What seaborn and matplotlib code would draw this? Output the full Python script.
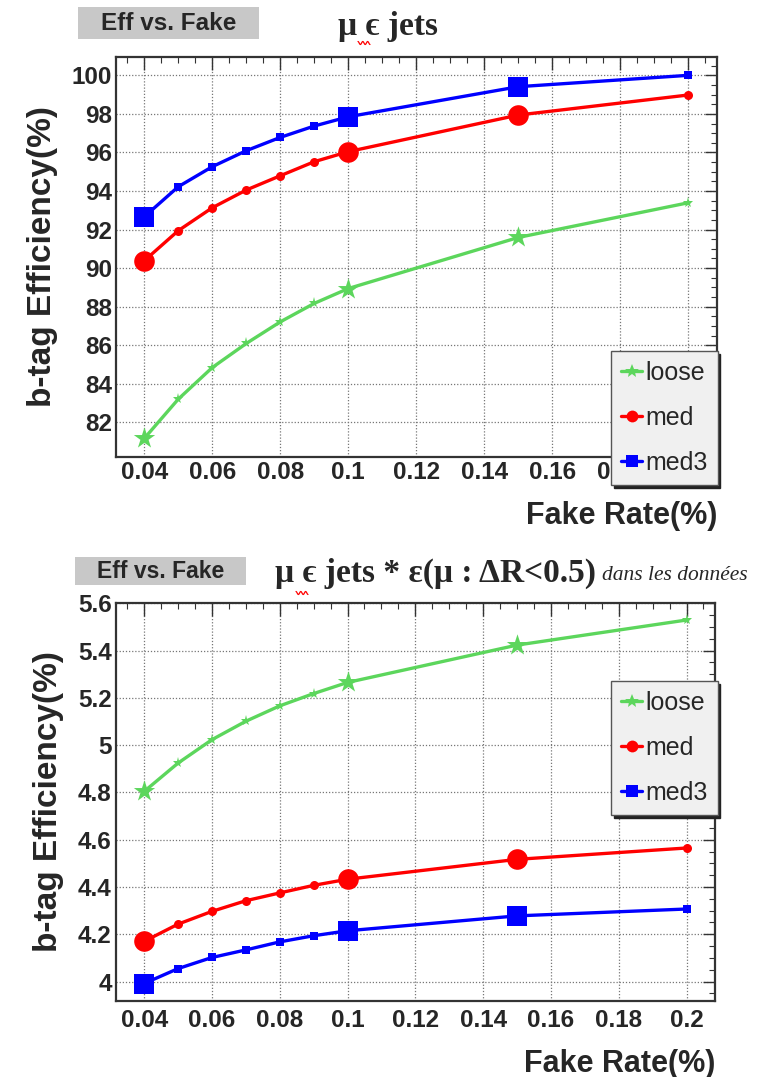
import matplotlib
matplotlib.use("Agg")
import matplotlib.pyplot as plt
from matplotlib.patches import Rectangle
from matplotlib.lines import Line2D
from matplotlib.ticker import MultipleLocator
import seaborn as sns
import pandas as pd
import numpy as np

# fake rate points (same for every working point)
fake_rate = [0.04, 0.05, 0.06, 0.07, 0.08, 0.09, 0.1, 0.15, 0.2]
big_idx = [0, 6, 7]  # points drawn with the large marker

# top panel: mu in jets
top_loose = [81.16, 83.2, 84.84, 86.09, 87.21, 88.17, 88.94, 91.59, 93.39]
top_med = [90.38, 91.94, 93.13, 94.05, 94.79, 95.52, 96.04, 97.94, 98.98]
top_med3 = [92.66, 94.22, 95.26, 96.09, 96.78, 97.37, 97.85, 99.41, 100.0]

# bottom panel: mu in jets * eff(mu : dR<0.5) in data
bot_loose = [4.804, 4.924, 5.023, 5.101, 5.166, 5.218, 5.265, 5.423, 5.529]
bot_med = [4.170, 4.243, 4.297, 4.342, 4.375, 4.407, 4.433, 4.517, 4.565]
bot_med3 = [3.992, 4.055, 4.102, 4.134, 4.168, 4.194, 4.215, 4.278, 4.307]

labels = ["loose", "med", "med3"]
colors = {"loose": "#5cd65c", "med": "#ff0000", "med3": "#0000ff"}
markers = {"loose": "*", "med": "o", "med3": "s"}
small_size = {"loose": 8, "med": 6.5, "med3": 6}
big_size = {"loose": 260, "med": 220, "med3": 220}

sns.set_style("white")
plt.rcParams["font.family"] = ["Liberation Sans", "DejaVu Sans"]

W, H = 758, 1077
fig = plt.figure(figsize=(W / 100, H / 100), dpi=100)


def make_df(loose, med, med3):
    rows = []
    for lab, vals in zip(labels, [loose, med, med3]):
        for i, (x, y) in enumerate(zip(fake_rate, vals)):
            rows.append({"fake": x, "eff": y, "wp": lab, "big": i in big_idx})
    return pd.DataFrame(rows)


def draw_panel(ax, df, ylim, ymajor, yminor, yfmt, xpad):
    for lab in labels:
        d = df[df.wp == lab]
        sns.lineplot(data=d, x="fake", y="eff", color=colors[lab], marker=markers[lab],
                     markersize=small_size[lab], markeredgewidth=0, linewidth=2.4,
                     ax=ax, legend=False, zorder=3)
        sns.scatterplot(data=d[d.big], x="fake", y="eff", color=colors[lab],
                        marker=markers[lab], s=big_size[lab], linewidth=0,
                        ax=ax, legend=False, zorder=4)
    ax.set_xlim(0.0317, 0.2084)
    ax.set_ylim(*ylim)
    ax.xaxis.set_major_locator(MultipleLocator(0.02))
    ax.xaxis.set_minor_locator(MultipleLocator(0.005))
    ax.yaxis.set_major_locator(MultipleLocator(ymajor))
    ax.yaxis.set_minor_locator(MultipleLocator(yminor))
    ax.xaxis.set_major_formatter(plt.FuncFormatter(lambda v, p: f"{v:.2f}".rstrip("0") if v > 0.001 else "0"))
    ax.yaxis.set_major_formatter(plt.FuncFormatter(yfmt))
    ax.grid(True, which="major", linestyle=(0, (1, 1.5)), color="#777777", linewidth=0.9)
    ax.tick_params(which="both", direction="in", top=True, right=True, color="#333333",
                   labelsize=17.5, pad=3)
    ax.tick_params(axis="x", which="major", pad=xpad)
    ax.tick_params(which="major", length=9, width=1)
    ax.tick_params(which="minor", length=4.5, width=0.8)
    for t in ax.get_xticklabels() + ax.get_yticklabels():
        t.set_fontweight("bold")
    for s in ax.spines.values():
        s.set_color("#333333")
        s.set_linewidth(1.6)
    ax.set_xlabel("Fake Rate(%)", fontsize=22, fontweight="bold", loc="right", labelpad=12)
    ax.set_ylabel("b-tag Efficiency(%)", fontsize=24, fontweight="bold", labelpad=10)


def legend(top_px):
    handles = [Line2D([], [], color=colors[l], marker=markers[l], markersize=small_size[l] + 2,
                      markeredgewidth=0, linewidth=2.4) for l in labels]
    leg = fig.legend(handles, labels, loc="upper left",
                     bbox_to_anchor=(611 / W, 1 - top_px / H), fontsize=18,
                     frameon=True, fancybox=False, shadow={"color": "#222222", "alpha": 1},
                     handlelength=0.85, handletextpad=0.12, labelspacing=0.84,
                     borderpad=0.4, borderaxespad=0, framealpha=1)
    leg.get_frame().set_facecolor("#f0f0f0")
    leg.get_frame().set_edgecolor("#555555")
    leg.get_frame().set_linewidth(1.0)
    return leg


def header(y_top, y_bot, x0, x1, size):
    fig.add_artist(Rectangle((x0 / W, 1 - y_bot / H), (x1 - x0) / W, (y_bot - y_top) / H,
                             transform=fig.transFigure, facecolor="#c8c8c8", edgecolor="none"))
    fig.text((x0 + x1) / 2 / W, 1 - (y_top + y_bot) / 2 / H, "Eff vs. Fake", ha="center",
             va="center", fontsize=size, fontweight="bold")


def squiggle(xc, yc):
    # red spell-check underline under the epsilon
    t = np.linspace(-6, 6, 40)
    fig.add_artist(Line2D((xc + t) / W, 1 - (yc + 1.5 * np.sin(t * 1.3)) / H,
                          transform=fig.transFigure, color="red", linewidth=0.9))


serif = ["Liberation Serif", "DejaVu Serif"]

# top panel
ax1 = fig.add_axes([116 / W, 1 - 457 / H, 601 / W, 400 / H])
draw_panel(ax1, make_df(top_loose, top_med, top_med3), (80.2, 100.95), 2, 0.5,
           lambda v, p: f"{v:.0f}", 3)
legend(351)
header(7, 39, 78, 259, 17.5)
fig.text(388 / W, 1 - 27 / H, "μ ϵ jets", ha="center", va="center", fontsize=24,
         fontweight="bold", family=serif)
squiggle(364, 43)

# bottom panel
ax2 = fig.add_axes([116 / W, 1 - 1001 / H, 599 / W, 398 / H])
draw_panel(ax2, make_df(bot_loose, bot_med, bot_med3), (3.918, 5.601), 0.2, 0.05,
           lambda v, p: f"{v:.1f}".rstrip("0").rstrip("."), 6)
legend(681)
header(557, 585, 75, 246, 16.5)
fig.text(275 / W, 1 - 573 / H, "μ ϵ jets * ε(μ : ΔR<0.5)", ha="left", va="center",
         fontsize=24, fontweight="bold", family=serif)
fig.text(602 / W, 1 - 576 / H, "dans les données", ha="left", va="center",
         fontsize=15.5, style="italic", family=serif)
squiggle(302, 593)

fig.savefig("out.png", dpi=100)
